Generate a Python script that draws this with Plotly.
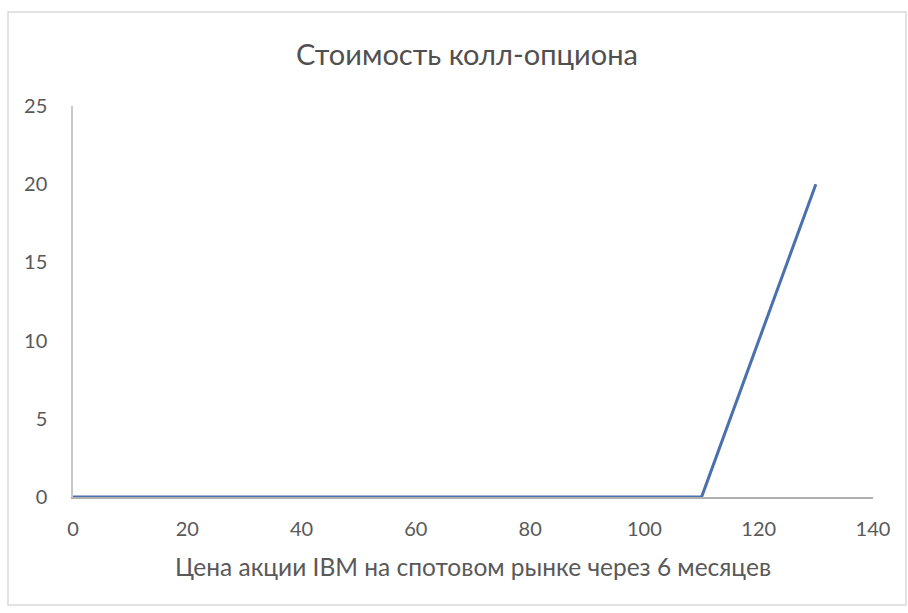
import plotly.graph_objects as go

# Spot price of IBM in 6 months and the corresponding call option value
spot_price = [0, 20, 40, 60, 80, 100, 110, 111, 130]
call_value = [0, 0, 0, 0, 0, 0, 0, 1, 20]

x_ticks = [0, 20, 40, 60, 80, 100, 120, 140]
y_ticks = [0, 5, 10, 15, 20, 25]

title_text = "Стоимость колл-опциона"
x_title = "Цена акции IBM на спотовом рынке через 6 месяцев"

FONT = "Lato, 'Open Sans', sans-serif"
GREY = "#595959"

fig = go.Figure()
fig.add_trace(go.Scatter(
    x=spot_price, y=call_value, mode="lines",
    line=dict(color="#4a70ad", width=3),
    showlegend=False,
))

L, R, T, B = 73, 35, 106, 116
W, H = 908, 613
pw, ph = W - L - R, H - T - B

def px_x(p):
    return (p - L) / pw

def px_y(p):
    return (H - B - p) / ph

fig.update_layout(
    width=W, height=H,
    margin=dict(l=L, r=R, t=T, b=B),
    paper_bgcolor="white", plot_bgcolor="white",
    font=dict(family=FONT, color=GREY),
    title=dict(text=title_text, x=px_x(467), xref="paper",
               xanchor="center", y=1 - 55 / H, yanchor="middle",
               font=dict(size=29, color="#505050", family=FONT)),
    xaxis=dict(range=[0, 140], tickvals=x_ticks, showgrid=False, zeroline=False,
               showline=True, linecolor="#b0b0b0", linewidth=1.5, ticks="",
               tickfont=dict(size=20, color=GREY), ticklabelstandoff=13,
               title=dict(text=x_title, font=dict(size=24.5, color=GREY), standoff=20)),
    yaxis=dict(range=[0, 25], tickvals=y_ticks, showgrid=False, zeroline=False,
               showline=True, linecolor="#c8c8c8", linewidth=1.5, ticks="",
               tickfont=dict(size=20, color=GREY), ticklabelstandoff=20),
    shapes=[dict(type="rect", xref="paper", yref="paper",
                 x0=px_x(8), x1=px_x(906), y0=px_y(605), y1=px_y(12),
                 line=dict(color="#d9d9d9", width=1.5), layer="below")],
)

fig.write_html("out.html")
